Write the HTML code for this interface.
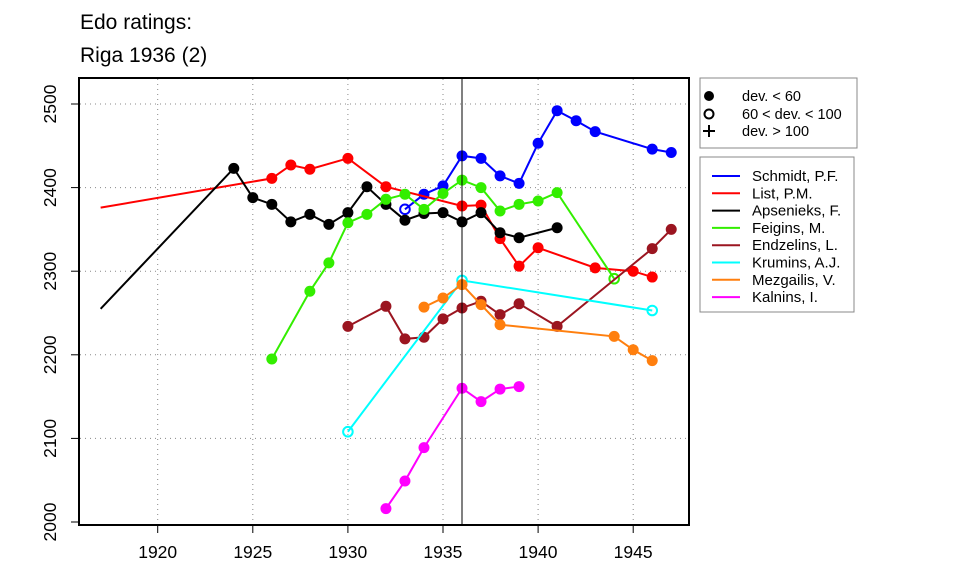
<!DOCTYPE html>
<html><head><meta charset="utf-8"><style>
html,body{margin:0;padding:0;background:#fff;width:960px;height:576px;overflow:hidden}
svg{display:block;font-family:"Liberation Sans",Arial,sans-serif}
</style></head><body>
<svg id="s" width="960" height="576" xmlns="http://www.w3.org/2000/svg">
<rect width="960" height="576" fill="#fff"/>
<text x="80" y="29" font-size="21">Edo ratings:</text>
<text x="80" y="62" font-size="21">Riga 1936 (2)</text>
<g id="grid" stroke="#888" stroke-width="1" stroke-dasharray="1,4"></g>
<g id="ser"></g>
<line x1="462" y1="78" x2="462" y2="525" stroke="#000" stroke-width="1"/>
<rect x="79" y="78" width="610" height="447" fill="none" stroke="#000" stroke-width="2"/>
<g id="ticks" stroke="#000" stroke-width="1"></g>
<g font-size="17.5" fill="#000" id="xl" text-anchor="middle">
<text x="157.7" y="558">1920</text><text x="252.8" y="558">1925</text><text x="347.8" y="558">1930</text>
<text x="442.9" y="558">1935</text><text x="538" y="558">1940</text><text x="633.1" y="558">1945</text>
</g>
<g font-size="17.5" fill="#000" text-anchor="middle">
<text transform="translate(56,522) rotate(-90)">2000</text>
<text transform="translate(56,438.4) rotate(-90)">2100</text>
<text transform="translate(56,354.8) rotate(-90)">2200</text>
<text transform="translate(56,271.2) rotate(-90)">2300</text>
<text transform="translate(56,187.6) rotate(-90)">2400</text>
<text transform="translate(56,104) rotate(-90)">2500</text>
</g>
<rect x="700" y="78" width="157" height="70" fill="#fff" stroke="#888" stroke-width="1"/>
<circle cx="709" cy="96" r="5" fill="#000"/>
<circle cx="709" cy="114" r="4.5" fill="none" stroke="#000" stroke-width="2"/>
<path d="M703 131h12M709 125v12" stroke="#000" stroke-width="2"/>
<g font-size="14.5"><text x="742" y="101">dev. &lt; 60</text><text x="742" y="119">60 &lt; dev. &lt; 100</text><text x="742" y="136">dev. &gt; 100</text></g>
<rect x="700" y="157" width="154" height="155" fill="#fff" stroke="#888" stroke-width="1"/>
<g stroke-width="2">
<line x1="712" x2="740" y1="176" y2="176" stroke="#0000ff"/>
<line x1="712" x2="740" y1="193.3" y2="193.3" stroke="#ff0000"/>
<line x1="712" x2="740" y1="210.6" y2="210.6" stroke="#000"/>
<line x1="712" x2="740" y1="227.9" y2="227.9" stroke="#33ee00"/>
<line x1="712" x2="740" y1="245.2" y2="245.2" stroke="#9b1520"/>
<line x1="712" x2="740" y1="262.5" y2="262.5" stroke="#00ffff"/>
<line x1="712" x2="740" y1="279.8" y2="279.8" stroke="#ff7f0e"/>
<line x1="712" x2="740" y1="297.1" y2="297.1" stroke="#ff00ff"/>
</g>
<g font-size="15">
<text x="752" y="181">Schmidt, P.F.</text><text x="752" y="198.3">List, P.M.</text>
<text x="752" y="215.6">Apsenieks, F.</text><text x="752" y="232.9">Feigins, M.</text>
<text x="752" y="250.2">Endzelins, L.</text><text x="752" y="267.5">Krumins, A.J.</text>
<text x="752" y="284.8">Mezgailis, V.</text><text x="752" y="302.1">Kalnins, I.</text>
</g>
</svg>
<script>
var X=function(y){return 157.7+(y-1920)*19.02},Y=function(v){return 522-(v-2000)*0.836};
var NS="http://www.w3.org/2000/svg";
function el(p,t,a){var e=document.createElementNS(NS,t);for(var k in a)e.setAttribute(k,a[k]);p.appendChild(e);return e}
var g=document.getElementById('grid'),tk=document.getElementById('ticks');
for(var yr=1920;yr<=1945;yr+=5){el(g,'line',{x1:X(yr),x2:X(yr),y1:79,y2:524});el(tk,'line',{x1:X(yr),x2:X(yr),y1:525,y2:533});}
for(var v=2000;v<=2500;v+=100){if(v>2000)el(g,'line',{x1:80,x2:688,y1:Y(v),y2:Y(v)});el(tk,'line',{x1:71,x2:79,y1:Y(v),y2:Y(v)});}
var S=[
["#0000ff",[[1933,2374,1],[1934,2392],[1935,2402],[1936,2438],[1937,2435],[1938,2414],[1939,2405],[1940,2453],[1941,2492],[1942,2480],[1943,2467],[1946,2446],[1947,2442]]],
["#ff0000",[[1917,2376,2],[1926,2411],[1927,2427],[1928,2422],[1930,2435],[1932,2401],[1936,2378],[1937,2379],[1938,2339],[1939,2306],[1940,2328],[1943,2304],[1945,2300],[1946,2293]]],
["#000000",[[1917,2255,2],[1924,2423],[1925,2388],[1926,2380],[1927,2359],[1928,2368],[1929,2356],[1930,2370],[1931,2401],[1932,2380],[1933,2361],[1934,2369],[1935,2370],[1936,2359],[1937,2370],[1938,2346],[1939,2340],[1941,2352]]],
["#33ee00",[[1926,2195],[1928,2276],[1929,2310],[1930,2358],[1931,2368],[1932,2386],[1933,2392],[1934,2374],[1935,2393],[1936,2409],[1937,2400],[1938,2372],[1939,2380],[1940,2384],[1941,2394],[1944,2291,1]]],
["#9b1520",[[1930,2234],[1932,2258],[1933,2219],[1934,2221],[1935,2243],[1936,2256],[1937,2264],[1938,2248],[1939,2261],[1941,2234],[1946,2327],[1947,2350]]],
["#00ffff",[[1930,2108,1],[1936,2289,1],[1946,2253,1]]],
["#ff7f0e",[[1934,2257],[1935,2268],[1936,2284],[1937,2260],[1938,2236],[1944,2222],[1945,2206],[1946,2193]]],
["#ff00ff",[[1932,2016],[1933,2049],[1934,2089],[1936,2160],[1937,2144],[1938,2159],[1939,2162]]]
];
var sg=document.getElementById('ser');
S.forEach(function(s){var c=s[0],p=s[1];
el(sg,'polyline',{points:p.map(function(q){return X(q[0])+','+Y(q[1])}).join(' '),fill:'none',stroke:c,'stroke-width':2});
p.forEach(function(q){if(q[2]==2)return;if(q[2]==1)el(sg,'circle',{cx:X(q[0]),cy:Y(q[1]),r:4.8,fill:'none',stroke:c,'stroke-width':2});else el(sg,'circle',{cx:X(q[0]),cy:Y(q[1]),r:5.5,fill:c});});
});
</script>
</body></html>
